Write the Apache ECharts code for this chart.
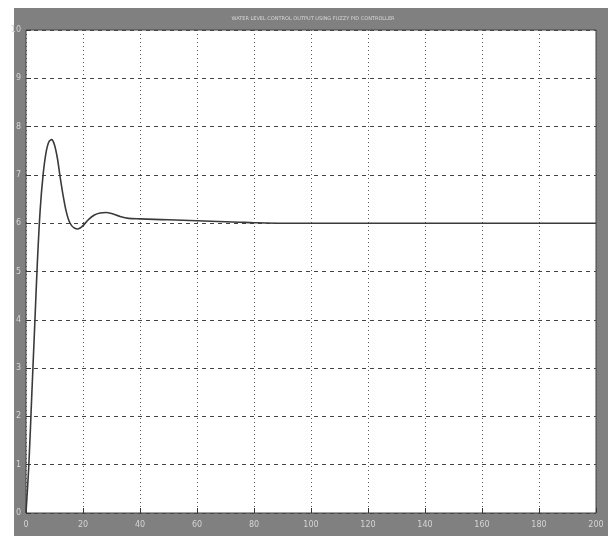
<!DOCTYPE html>
<html>
<head>
<meta charset="utf-8">
<script src="https://cdn.jsdelivr.net/npm/echarts@6/dist/echarts.min.js"></script>
<style>
  html, body { margin: 0; padding: 0; background: #fff; }
  #frame { position: absolute; left: 14px; top: 8px; width: 594px; height: 528px; background: #808080; }
  #chart { position: absolute; left: 0; top: 0; width: 608px; height: 536px; }
</style>
</head>
<body>
<div id="frame"></div>
<div id="chart"></div>
<script>
// step response
const timeVals = [0, 1, 2, 3, 4, 5, 6, 7, 8, 9, 10, 11, 12, 13, 14, 15, 16, 17, 18, 19, 20,
  22, 24, 26, 28, 30, 33, 36, 40, 45, 50, 55, 60, 65, 70, 75, 80, 90, 100, 120, 140, 160, 180, 200];
const outputVals = [0, 1.0, 2.4, 3.8, 5.2, 6.3, 7.0, 7.45, 7.68, 7.73, 7.62, 7.35, 6.95, 6.58, 6.27, 6.06, 5.95, 5.9, 5.88, 5.9, 5.95,
  6.08, 6.17, 6.21, 6.22, 6.2, 6.14, 6.1, 6.09, 6.08, 6.07, 6.06, 6.05, 6.04, 6.03, 6.02, 6.01, 6.0, 6.0, 6.0, 6.0, 6.0, 6.0, 6.0];
const xTicks = [0, 20, 40, 60, 80, 100, 120, 140, 160, 180, 200];
const yTicks = [0, 1, 2, 3, 4, 5, 6, 7, 8, 9, 10];
const titleText = 'WATER LEVEL CONTROL OUTPUT USING FUZZY PID CONTROLLER';

const chart = echarts.init(document.getElementById('chart'));
const labelStyle = { color: '#d4d4d4', fontSize: 8, fontFamily: 'DejaVu Sans' };

chart.setOption({
  animation: false,
  backgroundColor: 'transparent',
  title: {
    text: titleText, left: 308, top: 11, textAlign: 'center',
    textStyle: { color: '#d8d8d8', fontSize: 5, fontWeight: 'normal', fontFamily: 'DejaVu Sans' }
  },
  grid: { left: 26, right: 12, top: 30, bottom: 23, show: true, backgroundColor: '#fff', borderColor: '#444', borderWidth: 1 },
  xAxis: {
    type: 'value', min: 0, max: 200, interval: 20,
    axisLine: { show: false },
    axisTick: { show: true, inside: true, length: 5, lineStyle: { color: '#333' } },
    axisLabel: { ...labelStyle, margin: 8, formatter: v => xTicks.includes(v) ? String(v) : '' },
    splitLine: { show: true, lineStyle: { color: '#555', type: [1, 3], width: 1 } }
  },
  yAxis: {
    type: 'value', min: 0, max: 10, interval: 1,
    axisLine: { show: false },
    axisTick: { show: true, inside: true, length: 5, lineStyle: { color: '#333' } },
    axisLabel: { ...labelStyle, margin: 5, formatter: v => yTicks.includes(v) ? String(v) : '' },
    splitLine: { show: true, lineStyle: { color: '#444', type: [4, 4], width: 1 } }
  },
  series: [{
    type: 'line',
    data: timeVals.map((t, i) => [t, outputVals[i]]),
    smooth: 0.3,
    showSymbol: false,
    lineStyle: { color: '#3a3a3a', width: 1.6 }
  }]
});
</script>
</body>
</html>
